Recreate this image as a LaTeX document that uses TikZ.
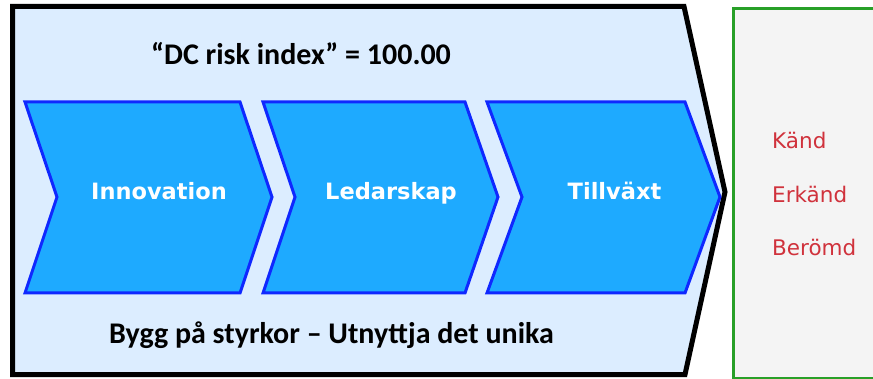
\documentclass[tikz,border=0pt]{standalone}
\usepackage{fontspec}
\usepackage{xcolor}
\setmainfont{Carlito}
\newfontfamily\labelfont{DejaVu Sans}
\definecolor{panelblue}{RGB}{220,237,255}
\definecolor{chevfill}{RGB}{30,170,255}
\definecolor{chevline}{RGB}{15,40,255}
\definecolor{boxgreen}{RGB}{40,160,40}
\definecolor{boxgray}{RGB}{244,244,244}
\definecolor{famered}{RGB}{208,50,60}
\tikzstyle{panel}=[
        draw = black,
        line width = 5pt,
        fill = panelblue,
        line join = miter
    ]
\tikzstyle{chevron}=[
        draw = chevline,
        line width = 3pt,
        fill = chevfill
    ]
\tikzstyle{step label}=[
        text = white,
        font = \labelfont\bfseries\fontsize{22.5}{26}\selectfont,
        anchor = base,
        inner sep = 0pt
    ]
\tikzstyle{fame label}=[
        text = famered,
        font = \labelfont\fontsize{21.5}{26}\selectfont,
        anchor = base west,
        inner sep = 0pt
    ]

\begin{document}
\begin{tikzpicture}[x=1pt, y=-1pt, heading/.style = {font=\bfseries\fontsize{30}{36}\selectfont, anchor=base, inner sep=0pt}]
        \useasboundingbox (0,0) rectangle (873,379);

        % outer arrow panel and the box beside it
        \draw[panel] (12.5,6.5) -- (684,6.5) -- (725,192) -- (685,374.5) -- (12.5,374.5) -- cycle;
        \draw[boxgreen, line width=2.5pt, fill=boxgray] (874,8.5) -- (733.5,8.5) -- (733.5,378) -- (874,378);

        % the three steps
        \draw[chevron] (25,102) -- (240,102) -- (272,197) -- (240,293) -- (25,293) -- (57,197) -- cycle;
        \draw[chevron] (263,102) -- (465,102) -- (498,197) -- (465,293) -- (263,293) -- (295,197) -- cycle;
        \draw[chevron] (487,102) -- (685,102) -- (720,197) -- (685,293) -- (487,293) -- (522,197) -- cycle;

        \node[heading] (title) at (301,65) {``DC risk index'' = 100.00};
        \node[heading] (motto) at (331.5,344) {Bygg på styrkor -- Utnyttja det unika};

        \node[step label] (inno) at (159,200) {Innovation};
        \node[step label] (leader) at (391,200) {Ledarskap};
        \node[step label] (growth) at (614.5,200) {Tillväxt};

        \node[fame label] (known) at (772,149) {Känd};
        \node[fame label] (recognised) at (772,202.5) {Erkänd};
        \node[fame label] (famous) at (772,256) {Berömd};
    \end{tikzpicture}
\end{document}
